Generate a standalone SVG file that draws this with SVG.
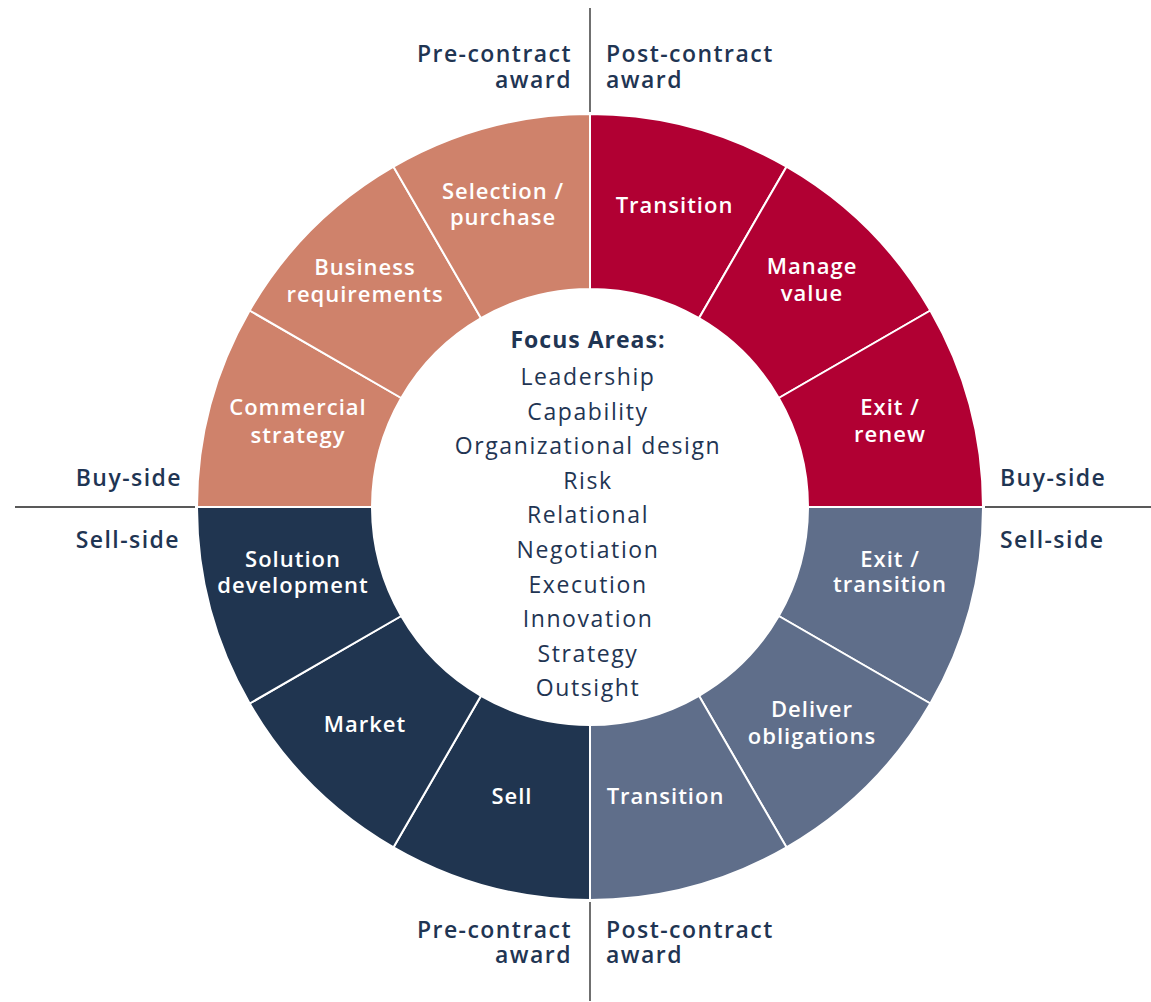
<svg xmlns="http://www.w3.org/2000/svg" width="1151" height="1002" viewBox="0 0 1151 1002">
  <style>
    .seg { stroke: #ffffff; stroke-width: 2; }
    .buy-pre { fill: #CF826B; }
    .buy-post { fill: #B10033; }
    .sell-pre { fill: #203550; }
    .sell-post { fill: #5F6E8A; }
    .lbl { font-family: "Open Sans", "DejaVu Sans", sans-serif; font-weight: 600; font-size: 22px; fill: #ffffff; text-anchor: middle; letter-spacing: 1px; }
    .axis { font-family: "Open Sans", "DejaVu Sans", sans-serif; font-weight: 600; font-size: 23px; fill: #1F3553; letter-spacing: 1.45px; }
    .focus { font-family: "Open Sans", "DejaVu Sans", sans-serif; font-size: 23px; fill: #1F3553; text-anchor: middle; letter-spacing: 1.6px; }
    .focus-h { font-weight: 700; letter-spacing: 1px; }
    .rule { stroke: #222222; stroke-width: 1.3; fill: none; }
  </style>

  <!-- quadrant dividers -->
  <g id="connectors">
    <line class="rule" x1="590" y1="8" x2="590" y2="112"/>
    <line class="rule" x1="590" y1="902" x2="590" y2="1001"/>
    <line class="rule" x1="15" y1="507" x2="195" y2="507"/>
    <line class="rule" x1="985" y1="507" x2="1151" y2="507"/>
  </g>

  <!-- axis labels -->
  <g id="axis-labels">
    <text class="axis" x="572" y="62" text-anchor="end">Pre-contract</text>
    <text class="axis" x="572" y="88" text-anchor="end">award</text>
    <text class="axis" x="606" y="62">Post-contract</text>
    <text class="axis" x="606" y="88">award</text>
    <text class="axis" x="572" y="938" text-anchor="end">Pre-contract</text>
    <text class="axis" x="572" y="963" text-anchor="end">award</text>
    <text class="axis" x="606" y="938">Post-contract</text>
    <text class="axis" x="606" y="963">award</text>
    <text class="axis" x="182" y="486" text-anchor="end">Buy-side</text>
    <text class="axis" x="180" y="548" text-anchor="end">Sell-side</text>
    <text class="axis" x="1000" y="486">Buy-side</text>
    <text class="axis" x="1000" y="548">Sell-side</text>
  </g>

  <!-- ring segments, 30 degrees each, clockwise from top -->
  <g id="seg-transition-buy">
    <path class="seg buy-post" d="M590,114 A393,393 0 0 1 786.5,166.65 L699,318.21 A218,218 0 0 0 590,289 Z"/>
    <text class="lbl" x="674.5" y="213">Transition</text>
  </g>
  <g id="seg-manage-value">
    <path class="seg buy-post" d="M786.5,166.65 A393,393 0 0 1 930.35,310.5 L778.79,398 A218,218 0 0 0 699,318.21 Z"/>
    <text class="lbl" x="812" y="274">Manage</text>
    <text class="lbl" x="812" y="301">value</text>
  </g>
  <g id="seg-exit-renew">
    <path class="seg buy-post" d="M930.35,310.5 A393,393 0 0 1 983,507 L808,507 A218,218 0 0 0 778.79,398 Z"/>
    <text class="lbl" x="890" y="415">Exit /</text>
    <text class="lbl" x="890" y="442">renew</text>
  </g>
  <g id="seg-exit-transition">
    <path class="seg sell-post" d="M983,507 A393,393 0 0 1 930.35,703.5 L778.79,616 A218,218 0 0 0 808,507 Z"/>
    <text class="lbl" x="890" y="567">Exit /</text>
    <text class="lbl" x="890" y="592">transition</text>
  </g>
  <g id="seg-deliver-obligations">
    <path class="seg sell-post" d="M930.35,703.5 A393,393 0 0 1 786.5,847.35 L699,695.79 A218,218 0 0 0 778.79,616 Z"/>
    <text class="lbl" x="812" y="717">Deliver</text>
    <text class="lbl" x="812" y="744">obligations</text>
  </g>
  <g id="seg-transition-sell">
    <path class="seg sell-post" d="M786.5,847.35 A393,393 0 0 1 590,900 L590,725 A218,218 0 0 0 699,695.79 Z"/>
    <text class="lbl" x="665.5" y="804">Transition</text>
  </g>
  <g id="seg-sell">
    <path class="seg sell-pre" d="M590,900 A393,393 0 0 1 393.5,847.35 L481,695.79 A218,218 0 0 0 590,725 Z"/>
    <text class="lbl" x="512" y="804">Sell</text>
  </g>
  <g id="seg-market">
    <path class="seg sell-pre" d="M393.5,847.35 A393,393 0 0 1 249.65,703.5 L401.21,616 A218,218 0 0 0 481,695.79 Z"/>
    <text class="lbl" x="365" y="732">Market</text>
  </g>
  <g id="seg-solution-development">
    <path class="seg sell-pre" d="M249.65,703.5 A393,393 0 0 1 197,507 L372,507 A218,218 0 0 0 401.21,616 Z"/>
    <text class="lbl" x="293" y="567">Solution</text>
    <text class="lbl" x="293" y="593">development</text>
  </g>
  <g id="seg-commercial-strategy">
    <path class="seg buy-pre" d="M197,507 A393,393 0 0 1 249.65,310.5 L401.21,398 A218,218 0 0 0 372,507 Z"/>
    <text class="lbl" x="298" y="415">Commercial</text>
    <text class="lbl" x="298" y="443">strategy</text>
  </g>
  <g id="seg-business-requirements">
    <path class="seg buy-pre" d="M249.65,310.5 A393,393 0 0 1 393.5,166.65 L481,318.21 A218,218 0 0 0 401.21,398 Z"/>
    <text class="lbl" x="365" y="275">Business</text>
    <text class="lbl" x="365" y="302">requirements</text>
  </g>
  <g id="seg-selection-purchase">
    <path class="seg buy-pre" d="M393.5,166.65 A393,393 0 0 1 590,114 L590,289 A218,218 0 0 0 481,318.21 Z"/>
    <text class="lbl" x="503" y="199">Selection /</text>
    <text class="lbl" x="503" y="225">purchase</text>
  </g>

  <!-- centre list -->
  <g id="focus-areas">
    <text class="focus focus-h" x="588" y="348">Focus Areas:</text>
    <text class="focus" x="588" y="385">Leadership</text>
    <text class="focus" x="588" y="420">Capability</text>
    <text class="focus" x="588" y="454">Organizational design</text>
    <text class="focus" x="588" y="489">Risk</text>
    <text class="focus" x="588" y="523">Relational</text>
    <text class="focus" x="588" y="558">Negotiation</text>
    <text class="focus" x="588" y="593">Execution</text>
    <text class="focus" x="588" y="627">Innovation</text>
    <text class="focus" x="588" y="662">Strategy</text>
    <text class="focus" x="588" y="696">Outsight</text>
  </g>
</svg>
